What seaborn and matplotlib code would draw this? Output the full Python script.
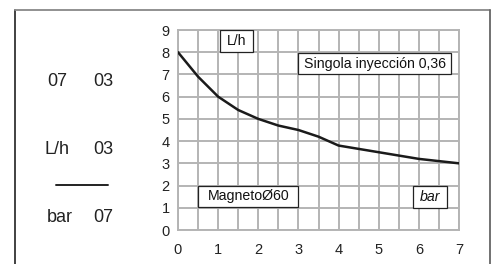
import matplotlib
matplotlib.use("Agg")
import matplotlib.pyplot as plt
import seaborn as sns
import pandas as pd
from matplotlib.patches import Rectangle

pressure_bar = [0, 0.5, 1, 1.5, 2, 2.5, 3, 3.5, 4, 4.5, 5, 5.5, 6, 6.5, 7]
flow_lh = [8.0, 6.9, 6.0, 5.4, 5.0, 4.7, 4.5, 4.2, 3.8, 3.65, 3.5, 3.35, 3.2, 3.1, 3.0]
x_ticks = [0, 1, 2, 3, 4, 5, 6, 7]
y_ticks = [0, 1, 2, 3, 4, 5, 6, 7, 8, 9]

sns.set_style("white")
plt.rcParams['font.family'] = ['Liberation Sans', 'DejaVu Sans']

df = pd.DataFrame({"bar": pressure_bar, "lh": flow_lh})

fig = plt.figure(figsize=(4.96, 2.64), dpi=100)
ax = fig.add_axes([178/496, 1-230/264, (459-178)/496, 200/264])

grid_c = "#b4b4b4"
sns.lineplot(data=df, x="bar", y="lh", ax=ax, color="#1a1a1a", linewidth=1.8, zorder=3)
ax.set_xlim(0, 7)
ax.set_ylim(0, 9)
ax.set_xticks([i * 0.5 for i in range(15)], minor=True)
ax.set_xticks(x_ticks)
ax.set_yticks(y_ticks)
ax.grid(True, which="both", axis="x", color=grid_c, linewidth=1.4)
ax.grid(True, which="major", axis="y", color=grid_c, linewidth=1.4)
for s in ax.spines.values():
    s.set_color(grid_c)
    s.set_linewidth(1.4)
ax.set_xlabel("")
ax.set_ylabel("")
ax.tick_params(axis="both", which="both", length=0, labelsize=10.5, colors="#222222")
ax.tick_params(axis="x", pad=9)
ax.tick_params(axis="y", pad=6)

def box(x0, y0, x1, y1, text, italic=False):
    ax.add_patch(Rectangle((x0, y0), x1 - x0, y1 - y0, facecolor="white",
                           edgecolor="#222222", linewidth=0.9, zorder=4))
    ax.text((x0 + x1) / 2, (y0 + y1) / 2, text, ha="center", va="center",
            fontsize=10.2, color="#111111", zorder=5,
            style="italic" if italic else "normal")

box(1.05, 8.0, 1.87, 9.0, "L/h")
box(3.0, 7.0, 6.8, 7.95, "Singola inyección 0,36")
box(0.5, 1.03, 3.0, 2.0, "MagnetoØ60")
box(5.86, 1.0, 6.69, 2.0, "bar", italic=True)

# outer frame
fig.add_artist(plt.Line2D([15/496, 15/496], [0, 1-10/264], transform=fig.transFigure,
                          color="#333333", linewidth=1.3))
fig.add_artist(plt.Line2D([15/496, 490/496], [1-10/264, 1-10/264], transform=fig.transFigure,
                          color="#888888", linewidth=1.3))
fig.add_artist(plt.Line2D([490/496, 490/496], [0, 1-10/264], transform=fig.transFigure,
                          color="#666666", linewidth=1.3))

# left legend text
tc = "#222222"
fs = 13
fig.text(57/496, 1-82/264, "07", ha="center", va="center", fontsize=fs, color=tc)
fig.text(103/496, 1-82/264, "03", ha="center", va="center", fontsize=fs, color=tc)
fig.text(57/496, 1-150/264, "L/h", ha="center", va="center", fontsize=fs, color=tc)
fig.text(103/496, 1-150/264, "03", ha="center", va="center", fontsize=fs, color=tc)
fig.add_artist(plt.Line2D([56/496, 108/496], [1-185/264, 1-185/264], transform=fig.transFigure,
                          color="#222222", linewidth=1.4))
fig.text(60/496, 1-218/264, "bar", ha="center", va="center", fontsize=fs, color=tc)
fig.text(103/496, 1-218/264, "07", ha="center", va="center", fontsize=fs, color=tc)

fig.savefig("out.png", dpi=100)
